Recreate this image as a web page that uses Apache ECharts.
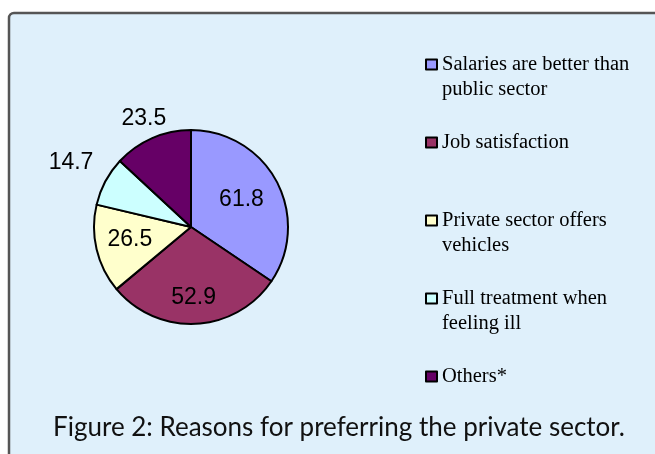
<!DOCTYPE html>
<html><head><meta charset="utf-8">
<script src="https://cdn.jsdelivr.net/npm/echarts@6/dist/echarts.min.js"></script>
<style>html,body{margin:0;padding:0;background:#fff}#c{width:655px;height:454px}</style>
</head><body><div id="c"></div>
<script>
// ---- data ----
const categories = ['Salaries are better than public sector', 'Job satisfaction', 'Private sector offers vehicles', 'Full treatment when feeling ill', 'Others*'];
const legendLines = [['Salaries are better than', 'public sector'], ['Job satisfaction'], ['Private sector offers', 'vehicles'], ['Full treatment when', 'feeling ill'], ['Others*']];
const values = [61.8, 52.9, 26.5, 14.7, 23.5];
const titleText = 'Figure 2: Reasons for preferring the private sector.';

// ---- styles ----
const colors = ['#9999ff', '#993366', '#ffffcc', '#ccffff', '#660066'];
const labelPlacement = ['inside', 'inside', 'inside', 'outside', 'outside'];
const labelNudge = [[5, -3], [0, 19], [-11, 1], [0, 0], [0, 0]];
const outsideDistance = [0, 0, 0, 39, 21];

const chart = echarts.init(document.getElementById('c'), null, {renderer: 'canvas'});
chart.setOption({
  backgroundColor: '#ffffff',
  animation: false,
  graphic: [{
    type: 'rect', z: -10, silent: true,
    shape: {x: 9, y: 13, width: 700, height: 500, r: 5},
    style: {fill: '#dff0fb', stroke: '#555555', lineWidth: 2.5}
  }],
  title: {
    text: titleText, left: 339, textAlign: 'center', top: 415, padding: 0,
    textStyle: {fontFamily: 'Lato', fontSize: 26, fontWeight: 'normal', color: '#111'}
  },
  legend: {
    orient: 'vertical', left: 425, top: 27, padding: 0, itemGap: 3,
    itemWidth: 11, itemHeight: 10, icon: 'rect', selectedMode: false,
    itemStyle: {borderColor: '#000', borderWidth: 2},
    textStyle: {fontFamily: 'Liberation Serif', fontSize: 20.5, color: '#000', lineHeight: 25},
    data: categories,
    formatter: name => {
      const l = legendLines[categories.indexOf(name)];
      return ['', l[0], l[1] || ''].join('\n');
    }
  },
  series: [{
    type: 'pie',
    center: [191, 227],
    radius: 97,
    startAngle: 90,
    clockwise: true,
    avoidLabelOverlap: false,
    emphasis: {disabled: true},
    itemStyle: {borderColor: '#000', borderWidth: 2},
    label: {formatter: '{c}', fontFamily: 'Liberation Sans', fontSize: 23, color: '#000', distanceToLabelLine: 0},
    labelLayout: function (p) {
      const i = p.dataIndex;
      if (labelPlacement[i] === 'outside') return {align: 'center'};
      return {dx: labelNudge[i][0], dy: labelNudge[i][1]};
    },
    data: categories.map((name, i) => ({
      name: name,
      value: values[i],
      itemStyle: {color: colors[i]},
      label: {position: labelPlacement[i]},
      labelLine: {show: false, length: outsideDistance[i], length2: 0}
    }))
  }]
});
</script>
</body></html>
